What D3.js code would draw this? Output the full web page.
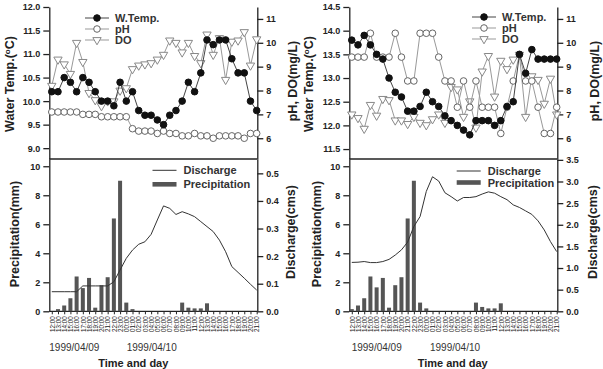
<!DOCTYPE html>
<html lang="en">
<head>
<meta charset="UTF-8">
<title>Water quality, precipitation and discharge</title>
<style>
    body { margin: 0; background: #fff; }
    svg { display: block; font-family: "Liberation Sans", Arial, sans-serif; }
    .tick text { fill: #222; }
</style>
</head>
<body>
<div id="chart"></div>
<script src="https://cdn.jsdelivr.net/npm/d3@7"></script>
<script>
// hourly samples, 1999/04/09 12:00 -> 1999/04/10 21:00
const hours = ["12:00","13:00","14:00","15:00","16:00","17:00","18:00","19:00","20:00","21:00","22:00","23:00",
    "00:00","01:00","02:00","03:00","04:00","05:00","06:00","07:00","08:00","09:00","10:00","11:00",
    "12:00","13:00","14:00","15:00","16:00","17:00","18:00","19:00","20:00","21:00"];
const days = ["1999/04/09", "1999/04/10"];

// left site
const tempA = [10.2,10.2,10.5,10.4,10.2,10.5,10.4,10.2,10.0,10.0,9.9,10.4,10.0,10.2,9.8,9.7,9.7,9.6,9.5,9.7,9.8,10.0,10.4,10.2,10.6,11.3,11.2,11.3,11.3,10.9,10.6,10.6,10.0,9.8];
const phA = [7.1,7.1,7.1,7.1,7.1,7.0,7.0,7.0,6.9,6.9,6.9,6.9,6.9,6.4,6.3,6.3,6.3,6.2,6.3,6.2,6.2,6.1,6.1,6.2,6.1,6.1,6.0,6.1,6.1,6.1,6.1,6.0,6.2,6.2];
const doA = [8.2,9.3,9.1,8.7,10.0,9.2,7.9,7.6,7.35,7.55,7.55,8.0,8.1,8.9,9.05,9.1,9.15,9.3,9.5,10.1,10.0,9.6,10.0,9.45,9.15,10.35,9.5,10.2,8.45,10.05,10.1,10.45,9.05,10.15];
const precA = [0,0.15,0.4,0.9,2.4,1.6,2.3,0.25,1.8,2.35,6.4,9.0,0.6,0.15,0,0,0,0,0,0,0,0.6,0.25,0.2,0.2,0.55,0,0,0,0,0,0,0,0];
const dischA = [0.071,0.071,0.071,0.071,0.071,0.092,0.092,0.092,0.092,0.092,0.107,0.15,0.192,0.222,0.243,0.252,0.279,0.331,0.382,0.373,0.351,0.361,0.353,0.343,0.325,0.307,0.289,0.258,0.216,0.162,0.141,0.12,0.098,0.077];

// right site
const tempB = [13.8,13.7,13.9,13.7,13.5,13.4,13.0,12.7,12.6,12.3,12.3,12.4,12.7,12.5,12.4,12.2,12.1,12.0,11.9,11.8,12.1,12.1,12.1,12.0,12.1,12.4,12.5,13.5,13.1,13.6,13.4,13.4,13.4,13.4];
const phB = [9.4,9.4,9.4,10.4,9.4,9.4,9.4,10.4,9.4,8.4,8.4,10.4,10.4,10.4,9.4,8.4,8.4,7.3,8.4,7.3,8.4,7.3,7.3,7.3,6.2,7.3,8.4,9.5,8.4,8.4,7.3,6.2,6.2,7.3];
const doB = [7.0,6.85,6.4,7.4,6.95,7.65,7.6,6.75,6.75,6.6,6.9,6.65,6.55,6.8,7.0,6.65,8.15,8.05,6.9,7.55,6.45,8.8,9.45,7.75,9.25,8.9,9.3,9.5,6.9,8.6,8.45,7.45,8.5,7.0];
const precB = [0.15,0.4,0.9,2.4,1.65,2.3,0.25,1.8,2.35,6.4,9.0,0.6,0.2,0,0,0,0,0,0,0,0.6,0.3,0.2,0.2,0.55,0,0,0,0,0,0,0,0,0];
const dischB = [1.13,1.135,1.15,1.126,1.126,1.15,1.2,1.3,1.42,1.6,1.96,2.19,2.77,3.11,3.01,2.74,2.65,2.55,2.63,2.63,2.65,2.71,2.76,2.73,2.65,2.58,2.46,2.4,2.32,2.24,2.09,1.88,1.61,1.38];

const svg = d3.select("#chart").append("svg")
    .attr("width", 603)
    .attr("height", 369);

const L = 49.3, R = 257.3, T = 7, MID = 159, B = 311.3;

function drawPanel(ox, c) {
    const g = svg.append("g").attr("transform", `translate(${ox},0)`);
    const x = d3.scaleLinear().domain([-0.4, hours.length - 0.9]).range([L, R]);

    const yT = d3.scaleLinear().domain(c.tempDomain).range([MID, T]);
    const yW = d3.scaleLinear().domain([5.13, 11.5]).range([MID, T]);
    const yP = d3.scaleLinear().domain([0, 10.5]).range([B, MID]);
    const yQ = d3.scaleLinear().domain(c.qDomain).range([B, MID]);

    // axes
    function styleAxis(sel) {
        sel.selectAll("path, line").attr("stroke", "#222").attr("stroke-width", 1.3);
        sel.selectAll("text").attr("font-size", 9).attr("font-weight", "bold");
    }
    g.append("g").attr("transform", `translate(${L},0)`)
        .call(d3.axisLeft(yT).tickValues(c.tempTicks).tickFormat(d3.format(".1f")).tickSize(6).tickSizeOuter(0))
        .call(styleAxis);
    g.append("g").attr("transform", `translate(${R},0)`)
        .call(d3.axisRight(yW).tickValues([6, 7, 8, 9, 10, 11]).tickFormat(d3.format("d")).tickSize(6).tickSizeOuter(0))
        .call(styleAxis);
    g.append("g").attr("transform", `translate(${L},0)`)
        .call(d3.axisLeft(yP).tickValues([0, 2, 4, 6, 8, 10]).tickFormat(d3.format("d")).tickSize(6).tickSizeOuter(0))
        .call(styleAxis);
    g.append("g").attr("transform", `translate(${R},0)`)
        .call(d3.axisRight(yQ).tickValues(c.qTicks).tickFormat(d3.format(".1f")).tickSize(6).tickSizeOuter(0))
        .call(styleAxis);

    const xa = g.append("g").attr("transform", `translate(0,${B})`)
        .call(d3.axisBottom(x).tickValues(d3.range(hours.length)).tickFormat(i => hours[i]).tickSize(3).tickSizeOuter(0));
    xa.select(".domain").remove();
    xa.selectAll("line").attr("stroke", "#222");
    xa.selectAll("text")
        .attr("font-size", 6.3)
        .attr("fill", "#444")
        .attr("transform", "rotate(-90)")
        .attr("x", -5)
        .attr("y", 0)
        .attr("dy", "0.35em")
        .style("text-anchor", "end");

    g.append("line").attr("x1", L).attr("x2", R).attr("y1", B).attr("y2", B)
        .attr("stroke", "#222").attr("stroke-width", 1.3);
    g.append("line").attr("x1", L).attr("x2", R).attr("y1", MID).attr("y2", MID)
        .attr("stroke", "#222").attr("stroke-width", 1.6);

    // bottom panel: precipitation bars and discharge
    g.append("g").selectAll("rect")
        .data(c.prec)
        .join("rect")
        .attr("x", (d, i) => x(i) - 2)
        .attr("width", 4)
        .attr("y", d => yP(d))
        .attr("height", d => B - yP(d))
        .attr("fill", "#555");

    g.append("path")
        .datum(c.q)
        .attr("fill", "none")
        .attr("stroke", "#333")
        .attr("stroke-width", 1)
        .attr("d", d3.line().x((d, i) => x(i)).y(d => yQ(d)));

    // top panel: DO, pH, water temp
    const tri = d3.symbol().type(d3.symbolTriangle).size(30);
    function series(vals, scale, lineColor, drawMarker) {
        g.append("path")
            .datum(vals)
            .attr("fill", "none")
            .attr("stroke", lineColor)
            .attr("stroke-width", 1)
            .attr("d", d3.line().x((d, i) => x(i)).y(d => scale(d)));
        const m = g.append("g");
        vals.forEach((v, i) => drawMarker(m, x(i), scale(v)));
    }
    const doMarker = (m, px, py) => m.append("path").attr("d", tri)
        .attr("transform", `translate(${px},${py}) rotate(180)`)
        .attr("fill", "#fff").attr("stroke", "#888").attr("stroke-width", 1);
    const phMarker = (m, px, py) => m.append("circle").attr("cx", px).attr("cy", py).attr("r", 3.3)
        .attr("fill", "#fff").attr("stroke", "#666").attr("stroke-width", 1);
    const tMarker = (m, px, py) => m.append("circle").attr("cx", px).attr("cy", py).attr("r", 3.3)
        .attr("fill", "#111").attr("stroke", "#111");

    series(c.dox, yW, "#999", doMarker);
    series(c.ph, yW, "#999", phMarker);
    series(c.temp, yT, "#444", tMarker);

    // legends
    const lg = c.legTop;
    [["W.Temp.", "#444", tMarker], ["pH", "#999", phMarker], ["DO", "#999", doMarker]].forEach((d, i) => {
        const yy = lg.y + i * lg.dy;
        g.append("line").attr("x1", lg.x).attr("x2", lg.x + 24).attr("y1", yy).attr("y2", yy)
            .attr("stroke", d[1]).attr("stroke-width", 1);
        d[2](g, lg.x + 12, yy);
        g.append("text").attr("x", lg.x + 30).attr("y", yy + 4)
            .attr("font-size", 11).attr("font-weight", "bold").attr("fill", "#333").text(d[0]);
    });
    const lb = c.legBot;
    g.append("line").attr("x1", lb.x).attr("x2", lb.x + 24).attr("y1", lb.y1).attr("y2", lb.y1)
        .attr("stroke", "#333").attr("stroke-width", 1);
    g.append("text").attr("x", lb.x + 31).attr("y", lb.y1 + 4)
        .attr("font-size", 11).attr("font-weight", "bold").attr("fill", "#333").text("Discharge");
    g.append("rect").attr("x", lb.x).attr("y", lb.y2 - 2.3).attr("width", 24).attr("height", 4.6).attr("fill", "#555");
    g.append("text").attr("x", lb.x + 31).attr("y", lb.y2 + 4)
        .attr("font-size", 11).attr("font-weight", "bold").attr("fill", "#333").text("Precipitation");

    // axis titles
    function vTitle(px, py, txt) {
        return g.append("text").attr("transform", `translate(${px},${py}) rotate(-90)`)
            .attr("text-anchor", "middle").attr("dy", "0.35em")
            .attr("font-size", 12.5).attr("font-weight", "bold").attr("fill", "#222").text(txt);
    }
    const wt = vTitle(c.titleX[0], 84, "Water Temp.(");
    wt.append("tspan").attr("font-size", 8).attr("dy", "-0.5em").text("o");
    wt.append("tspan").attr("dy", "0.3em").text("C)");
    vTitle(c.titleX[1], 81, "pH, DO(mg/L)");
    vTitle(c.titleX[2], 234, "Precipitation(mm)");
    vTitle(c.titleX[3], 232, "Discharge(cms)");

    // day labels and x title
    days.forEach((d, i) => {
        g.append("text").attr("x", c.dayX[i]).attr("y", 350.5)
            .attr("font-size", 10).attr("fill", "#333").text(d);
    });
    g.append("text").attr("x", c.xTitleX).attr("y", 366.5).attr("text-anchor", "middle")
        .attr("font-size", 11).attr("font-weight", "bold").attr("fill", "#222").text("Time and day");
}

drawPanel(0, {
    temp: tempA, ph: phA, dox: doA, prec: precA, q: dischA,
    tempDomain: [8.77, 12.0], tempTicks: [9.0, 9.5, 10.0, 10.5, 11.0, 11.5, 12.0],
    qDomain: [0, 0.552], qTicks: [0, 0.1, 0.2, 0.3, 0.4, 0.5],
    legTop: { x: 85, y: 18, dy: 11 },
    legBot: { x: 152.5, y1: 170.3, y2: 184.3 },
    titleX: [10, 293, 15, 291],
    dayX: [49.3, 126.7], xTitleX: 133.3
});

drawPanel(300, {
    temp: tempB, ph: phB, dox: doB, prec: precB, q: dischB,
    tempDomain: [11.29, 14.5], tempTicks: [11.5, 12.0, 12.5, 13.0, 13.5, 14.0, 14.5],
    qDomain: [0, 3.52], qTicks: [0, 0.5, 1.0, 1.5, 2.0, 2.5, 3.0, 3.5],
    legTop: { x: 172, y: 17, dy: 11 },
    legBot: { x: 156.7, y1: 171, y2: 182.5 },
    titleX: [9, 295, 17, 293],
    dayX: [51.7, 130], xTitleX: 152.7
});
</script>
</body>
</html>
